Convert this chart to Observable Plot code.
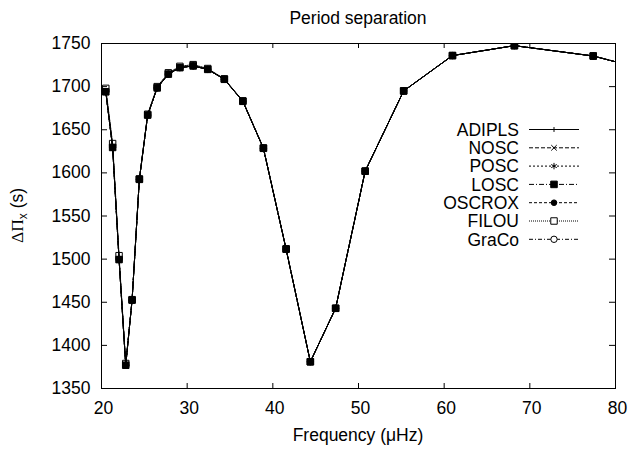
<!DOCTYPE html>
<html><head><meta charset="utf-8">
<script src="https://cdn.jsdelivr.net/npm/d3@7"></script>
<script src="https://cdn.jsdelivr.net/npm/@observablehq/plot@0.6"></script>
<style>body{margin:0;background:#fff} svg{display:block}</style>
</head><body><div id="chart"></div>
<script>
// Frequencies (µHz) of the modes
const freq = [20.5, 21.3, 22.05, 22.83, 23.57, 24.42, 25.39, 26.5, 27.8, 29.15, 30.7, 32.4, 34.34, 36.5, 38.9, 41.55, 44.38, 47.33, 50.78, 55.27, 60.97, 68.2, 77.4, 88.5];
// Period separations (s) for each code
const ADIPLS = [1694, 1629.5, 1499.5, 1377, 1452.5, 1592.5, 1667, 1698.5, 1714.5, 1722, 1724, 1720, 1708.5, 1683, 1628.5, 1511.5, 1381, 1443, 1602, 1695, 1736, 1747.5, 1735.5, 1707];
const NOSC   = [1694, 1629.5, 1499.5, 1377, 1452.5, 1592.5, 1667, 1698.5, 1714.5, 1722, 1724, 1720, 1708.5, 1683, 1628.5, 1511.5, 1381, 1443, 1602, 1695, 1736, 1747.5, 1735.5, 1707];
const POSC   = [1694, 1629.5, 1499.5, 1377, 1452.5, 1592.5, 1667, 1698.5, 1714.5, 1722, 1724, 1720, 1708.5, 1683, 1628.5, 1511.5, 1381, 1443, 1602, 1695, 1736, 1747.5, 1735.5, 1707];
const LOSC   = [1694, 1629.5, 1499.5, 1377, 1452.5, 1592.5, 1667, 1698.5, 1714.5, 1722, 1724, 1720, 1708.5, 1683, 1628.5, 1511.5, 1381, 1443, 1602, 1695, 1736, 1747.5, 1735.5, 1707];
const OSCROX = [1694, 1629.5, 1499.5, 1377, 1452.5, 1592.5, 1667, 1698.5, 1714.5, 1722, 1724, 1720, 1708.5, 1683, 1628.5, 1511.5, 1381, 1443, 1602, 1695, 1736, 1747.5, 1735.5, 1707];
const FILOU  = [1698, 1634, 1504, 1379, 1453, 1593, 1668, 1700, 1716, 1723.5, 1725.5, 1721, 1709, 1683.5, 1629, 1512, 1381, 1443, 1602, 1695, 1736, 1747.5, 1735.5, 1707];
const GraCo  = [1694, 1629.5, 1499.5, 1377, 1452.5, 1592.5, 1667, 1698.5, 1714.5, 1722, 1724, 1720, 1708.5, 1683, 1628.5, 1511.5, 1381, 1443, 1602, 1695, 1736, 1747.5, 1735.5, 1707];

const seriesNames = ["ADIPLS", "NOSC", "POSC", "LOSC", "OSCROX", "FILOU", "GraCo"];
const seriesValues = [ADIPLS, NOSC, POSC, LOSC, OSCROX, FILOU, GraCo];
const xTicks = [20, 30, 40, 50, 60, 70, 80];
const yTicks = [1350, 1400, 1450, 1500, 1550, 1600, 1650, 1700, 1750];

const title = "Period separation";
const xLabel = "Frequency (\u03bcHz)";

// styles
const styles = {
  ADIPLS: {dash: null, symbol: "plus", r: 1.7, fill: "none"},
  NOSC:   {dash: "4,2", symbol: "times", r: 2.6, fill: "none"},
  POSC:   {dash: "2,2", symbol: "asterisk", r: 3.0, fill: "none"},
  LOSC:   {dash: "5,2,1,2", symbol: "square", r: 3.7, fill: "black"},
  OSCROX: {dash: "3,2", symbol: "circle", r: 2.8, fill: "black"},
  FILOU:  {dash: "1,1", symbol: "square2", r: 4.1, fill: "none"},
  GraCo:  {dash: "4,2,1,2", symbol: "circle", r: 3.2, fill: "none"}
};

const rows = seriesNames.flatMap((name, k) => freq.map((f, i) => ({series: name, f, v: seriesValues[k][i]})));

const W = 628, H = 449, mL = 101, mR = 13, mT = 43, mB = 61;
const fw = W - mL - mR, fh = H - mT - mB;
const font = "'Liberation Sans', Arial, Helvetica, sans-serif";
const fs = 17.5;

const marks = [];
seriesNames.forEach(name => {
  const s = styles[name];
  const data = rows.filter(d => d.series === name);
  marks.push(Plot.line(data, {x: "f", y: "v", stroke: "black", strokeWidth: 1, strokeDasharray: s.dash, clip: true}));
  marks.push(Plot.dot(data, {x: "f", y: "v", symbol: s.symbol, r: s.r, fill: s.fill, stroke: "black", strokeWidth: 1, clip: true}));
});
marks.push(
  Plot.ruleX(xTicks, {x: d => d, insetTop: fh - 5, stroke: "black"}),
  Plot.ruleX(xTicks, {x: d => d, insetBottom: fh - 5, stroke: "black"}),
  Plot.ruleY(yTicks, {y: d => d, insetRight: fw - 6, stroke: "black"}),
  Plot.ruleY(yTicks, {y: d => d, insetLeft: fw - 6, stroke: "black"}),
  Plot.frame({stroke: "black"}),
  Plot.axisX({ticks: xTicks, tickFormat: d => String(d), tickSize: 0, tickPadding: 13, label: null, dx: 2, fill: "black"}),
  Plot.axisY({ticks: yTicks, tickFormat: d => String(d), tickSize: 0, tickPadding: 11, label: null, fill: "black"})
);

const chart = Plot.plot({
  width: W, height: H,
  marginLeft: mL, marginRight: mR, marginTop: mT, marginBottom: mB,
  x: {domain: [20, 80]},
  y: {domain: [1350, 1750]},
  style: {fontFamily: font, fontSize: fs + "px", color: "black", background: "white"},
  marks
});

const svg = d3.select(chart);
// title
svg.append("text").attr("x", mL + fw / 2).attr("y", 23.5).attr("text-anchor", "middle")
  .attr("font-family", font).attr("font-size", fs).attr("fill", "black").text(title);
// x label
svg.append("text").attr("x", mL + fw / 2).attr("y", 440.5).attr("text-anchor", "middle")
  .attr("font-family", font).attr("font-size", fs).attr("fill", "black").text(xLabel);
// y label
const yl = svg.append("text").attr("transform", `translate(23,${mT + fh / 2}) rotate(-90)`)
  .attr("text-anchor", "middle").attr("font-family", font).attr("font-size", fs).attr("fill", "black");
yl.append("tspan").attr("font-family", "'Liberation Serif', 'Times New Roman', serif").text("\u0394\u03a0");
yl.append("tspan").attr("font-size", 12).attr("dy", 4).text("x");
yl.append("tspan").attr("dy", -4).text(" (s)");

// legend
const lg = svg.append("g");
const symMap = {plus: d3.symbolPlus, times: d3.symbolTimes, asterisk: d3.symbolAsterisk, square: d3.symbolSquare, circle: d3.symbolCircle, square2: d3.symbolSquare2};
seriesNames.forEach((name, i) => {
  const s = styles[name];
  const y = 129.5 + i * 18.3;
  lg.append("text").attr("x", 519).attr("y", y + 6.2).attr("text-anchor", "end")
    .attr("font-family", font).attr("font-size", fs).attr("fill", "black").text(name);
  lg.append("line").attr("x1", 529).attr("x2", 579).attr("y1", y).attr("y2", y)
    .attr("stroke", "black").attr("stroke-width", 1).attr("stroke-dasharray", s.dash);
  lg.append("path").attr("transform", `translate(554,${y})`)
    .attr("d", d3.symbol(symMap[s.symbol], Math.PI * s.r * s.r)())
    .attr("fill", s.fill === "none" ? "white" : s.fill).attr("stroke", "black").attr("stroke-width", 1);
});

document.getElementById("chart").appendChild(chart);
</script>
</body></html>
